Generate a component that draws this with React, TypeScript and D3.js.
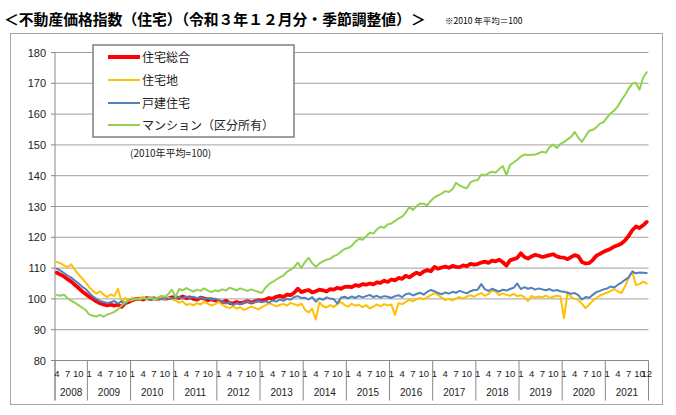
import React from 'react';
import * as d3 from 'd3';

const startYear = 2008;
const startMonth = 4;
const endYear = 2021;
const yearLabels = [2008, 2009, 2010, 2011, 2012, 2013, 2014, 2015, 2016, 2017, 2018, 2019, 2020, 2021];
const monthTickLabels = [1, 4, 7, 10];
const yTicks = [80, 90, 100, 110, 120, 130, 140, 150, 160, 170, 180];

const seriesNames = ['住宅総合', '住宅地', '戸建住宅', 'マンション（区分所有）'];
const seriesColors = ['#FF0000', '#FFC000', '#4F81BD', '#92D050'];

// 住宅総合
const sogo = [
  108.5, 107.9, 107.3, 106.4, 105.6, 104.6, 103.6, 102.5, 101.6,
  100.7, 100.0, 99.2, 98.6, 98.2, 97.9, 98.1, 97.8, 98.2, 97.4, 98.6, 99.0,
  99.6, 99.9, 100.1, 99.8, 100.3, 100.0, 100.2, 99.9, 100.3, 100.1, 100.2, 100.5,
  100.6, 100.3, 100.8, 100.2, 100.5, 100.0, 99.8, 100.4, 100.1, 99.6, 99.9, 99.5,
  99.3, 98.9, 99.4, 98.7, 98.5, 99.0, 98.6, 98.9, 99.3, 98.8, 99.2, 99.5,
  99.4, 99.8, 100.3, 100.0, 100.7, 101.0, 100.6, 101.4, 101.2, 102.0, 103.3, 102.2,
  102.6, 102.9, 102.1, 102.5, 103.0, 102.8, 102.4, 103.2, 103.0, 103.6, 103.3, 103.9,
  104.0, 103.8, 104.5, 104.2, 104.8, 104.6, 105.0, 104.7, 105.4, 105.2, 105.9, 105.5,
  106.3, 106.0, 106.8, 106.5, 107.5, 107.0, 107.8, 108.5, 108.0, 108.9, 109.4, 109.0,
  110.4, 109.8, 110.2, 110.5, 110.1, 110.7, 110.4, 110.3, 110.9, 110.6, 111.4, 111.1,
  111.3, 111.8, 112.1, 111.7, 112.4, 112.2, 112.7, 111.9, 110.8, 112.5, 112.9, 113.3,
  114.8, 113.6, 113.1, 113.8, 114.3, 114.0, 113.6, 113.9, 114.2, 114.5, 113.8, 113.5,
  113.4, 112.9, 113.6, 114.2, 113.8, 112.0, 111.5, 111.6, 112.6, 114.0, 114.6, 115.3,
  115.8, 116.3, 117.0, 117.4, 118.0, 119.0, 120.5, 122.3, 123.5, 123.0, 123.9, 125.0,
];

// 住宅地
const takuchi = [
  112.0, 111.6, 110.9, 110.3, 111.2, 109.4, 108.0, 106.7, 105.4,
  103.8, 102.6, 101.7, 102.5, 101.4, 100.6, 101.5, 100.9, 103.3, 99.0, 100.3, 99.6,
  100.4, 99.8, 100.2, 100.6, 99.9, 100.3, 100.1, 99.7, 100.4, 100.0, 100.5, 99.9,
  99.5, 98.8, 99.2, 98.0, 98.4, 97.9, 98.6, 98.2, 99.0, 98.5, 97.8, 98.3,
  99.0, 98.1, 97.4, 97.0, 97.6, 96.8, 97.3, 96.4, 96.9, 97.5, 97.1, 96.6,
  97.3, 97.9, 98.6, 98.2, 97.6, 98.0, 98.4, 97.8, 98.7, 98.3, 97.8, 98.5,
  96.5, 95.6, 96.8, 93.3, 98.9, 97.6, 97.2, 98.0, 97.4, 98.3, 99.0, 98.0,
  97.5, 98.4, 97.8, 98.1, 97.3, 98.0, 96.9, 97.5, 98.2, 97.6, 98.3, 97.9,
  98.2, 94.8, 98.6, 98.3, 99.0, 99.7, 99.2, 99.9, 100.3, 99.8, 100.6, 101.2,
  101.9, 101.3, 100.4, 99.6, 100.0, 99.5, 100.2, 100.6, 100.1, 100.8, 101.2, 100.7,
  101.4, 101.9, 101.0, 101.6, 102.7, 102.4, 101.2, 101.8, 101.3, 101.0, 101.6, 100.9,
  101.2, 100.6, 99.3, 101.0, 100.4, 100.8, 100.5, 101.1, 100.3, 100.7, 101.0, 100.9,
  93.8, 102.2, 100.6, 100.0, 99.7, 98.4, 97.0, 98.2, 99.4, 100.3, 101.1, 101.6,
  102.0, 102.6, 103.2, 102.4, 101.9, 104.2, 106.8, 108.9, 104.5, 104.8, 105.6, 105.0,
];

// 戸建住宅
const kodate = [
  109.8, 109.2, 108.4, 107.6, 106.9, 106.0, 105.1, 104.0, 103.2,
  102.0, 100.8, 100.0, 99.3, 99.0, 98.7, 98.9, 99.3, 98.5, 99.2, 98.4, 99.6,
  99.7, 100.1, 99.8, 100.2, 100.0, 99.6, 100.3, 100.1, 99.9, 100.4, 100.0, 100.2,
  100.3, 100.6, 100.1, 100.8, 100.4, 100.7, 100.2, 100.5, 99.9, 100.3, 99.8, 100.1,
  99.6, 99.2, 98.5, 98.9, 98.0, 98.6, 98.2, 98.8, 99.3, 98.7, 99.0, 99.4,
  98.9, 99.2, 98.8, 99.5, 99.1, 99.8, 99.4, 100.0, 99.7, 100.6, 100.9, 100.3,
  100.4, 99.8, 100.6, 99.1, 100.2, 99.7, 100.5, 100.1, 99.9, 98.5, 100.4, 100.7,
  100.2, 100.8, 100.3, 101.0, 100.5, 100.9, 101.3, 100.6, 101.0, 100.4, 100.9, 100.7,
  100.3, 100.9, 101.2, 100.6, 101.5, 101.8, 101.1, 101.6, 102.0, 101.4, 102.3, 102.9,
  102.5, 101.9, 101.5, 102.1, 101.7, 102.3, 102.0, 102.6, 102.2, 101.8, 102.5, 102.9,
  103.0, 104.8, 103.2, 102.6, 103.3, 102.8, 102.4, 103.0, 102.7, 103.2, 103.6, 105.0,
  103.2, 103.8, 103.3, 103.6, 103.0, 103.4, 103.1, 102.8, 103.2, 102.6, 102.9, 102.5,
  102.3, 102.0, 101.7, 101.9, 101.2, 99.8, 100.6, 100.4, 101.3, 102.2, 102.6, 103.1,
  103.4, 104.0, 103.7, 104.6, 105.3, 106.2, 107.0, 108.9, 108.3, 108.6, 108.5, 108.4,
];

// マンション（区分所有）
const mansion = [
  101.3, 101.0, 101.4, 100.2, 99.4, 98.8, 98.0, 97.2, 96.4,
  95.0, 94.5, 94.3, 94.8, 94.2, 94.9, 95.3, 95.8, 96.6, 97.8, 98.9, 99.5,
  99.6, 100.1, 99.8, 100.3, 100.0, 100.6, 99.9, 100.4, 101.0, 100.7, 101.6, 103.0,
  100.6, 103.2, 102.8, 103.5, 102.9, 102.4, 103.0, 102.6, 103.4, 102.7, 102.2, 102.8,
  102.5, 103.1, 102.7, 103.6, 103.2, 102.8, 103.4, 103.0, 102.6, 103.1, 102.7, 102.3,
  101.9, 103.6, 104.8, 105.5, 106.3, 107.0, 107.6, 108.8, 109.5, 110.3, 111.8, 110.0,
  112.0, 113.3, 111.6, 110.4, 111.5, 112.2, 112.7, 113.0, 113.9, 114.4, 115.3, 116.2,
  116.5, 117.2, 118.6, 119.5, 119.2, 120.3, 121.5, 121.2, 122.6, 123.4, 123.1, 124.2,
  124.5, 125.3, 126.1, 126.7, 128.0, 129.9, 128.9, 130.1, 131.0, 130.9, 130.4, 131.9,
  133.0, 133.6, 134.2, 135.0, 134.7, 135.6, 137.7, 136.8, 136.3, 135.9, 137.8, 138.4,
  138.6, 140.4, 140.1, 140.8, 141.3, 141.0, 142.2, 143.1, 140.2, 143.5, 144.3, 145.2,
  146.2, 146.9, 146.7, 146.8, 146.9, 147.3, 147.8, 147.5, 149.3, 150.1, 149.0, 150.3,
  150.9, 151.8, 152.6, 154.2, 152.3, 151.0, 152.8, 154.6, 154.9, 155.7, 156.9, 157.4,
  158.9, 160.3, 161.2, 162.6, 164.6, 166.2, 168.3, 169.9, 170.2, 167.9, 171.8, 173.6,
];

const seriesValues = [sogo, takuchi, kodate, mansion];

type M = { y: number; m: number; key: string };
const monthsList: M[] = [];
for (let y = startYear; y <= endYear; y++) {
  for (let m = y === startYear ? startMonth : 1; m <= 12; m++) {
    monthsList.push({ y, m, key: `${y}-${m}` });
  }
}

const W = 676;
const H = 415;
const L = 55;
const R = 648.5;
const T = 52.5;
const B = 360.5;

const JP = '"Noto Sans CJK JP", "Noto Sans", sans-serif';
const NUM = '"Liberation Sans", Arial, sans-serif';

export default function App() {
  const x = d3.scaleBand<string>().domain(monthsList.map((d) => d.key)).range([L, R]).padding(0);
  const bw = x.bandwidth();
  const y = d3.scaleLinear().domain([80, 180]).range([B, T]);
  const cx = (k: string) => (x(k) as number) + bw / 2;

  const line = d3
    .line<number>()
    .x((_, i) => cx(monthsList[i].key))
    .y((v) => y(v));

  const yearStarts = yearLabels.map((yr) => {
    const first = monthsList.find((d) => d.y === yr)!;
    const last = [...monthsList].reverse().find((d) => d.y === yr)!;
    return { yr, x0: x(first.key) as number, x1: (x(last.key) as number) + bw };
  });

  const monthLabels = monthsList
    .map((d, i) => ({ ...d, i }))
    .filter((d, i) => monthTickLabels.includes(d.m) || i === monthsList.length - 1);

  const legendY = [57, 80, 103, 125];

  return (
    <svg width={W} height={H} style={{ position: 'absolute', left: 0, top: 0, background: '#fff' }}>
      <text x={4} y={25} fontFamily={JP} fontWeight={700} fontSize={14.8} fill="#000">
        ＜不動産価格指数（住宅）（令和３年１２月分・季節調整値）＞
      </text>
      <text x={445} y={24} fontFamily={JP} fontSize={8.5} fill="#000">
        ※2010 年平均＝100
      </text>

      <rect x={10.5} y={33.5} width={652} height={371} fill="#fff" stroke="#a6a6a6" strokeWidth={1} />

      {yTicks.map((t) => (
        <g key={t}>
          {t !== 80 && <line x1={L} x2={R} y1={y(t)} y2={y(t)} stroke="#a0a0a0" strokeWidth={1} />}
          <line x1={L - 4} x2={L} y1={y(t)} y2={y(t)} stroke="#888" strokeWidth={1} />
          <text x={46} y={y(t) + 4} textAnchor="end" fontFamily={NUM} fontSize={11} fill="#222">
            {t}
          </text>
        </g>
      ))}

      <line x1={L} x2={L} y1={T} y2={B + 40} stroke="#888" strokeWidth={1} />
      <line x1={L} x2={R} y1={B} y2={B} stroke="#888" strokeWidth={1} />
      {yearStarts.map((d) => (
        <line key={'s' + d.yr} x1={d.x0} x2={d.x0} y1={B} y2={B + 40} stroke="#888" strokeWidth={1} />
      ))}
      <line x1={R} x2={R} y1={B} y2={B + 40} stroke="#888" strokeWidth={1} />

      {monthLabels.map((d) => (
        <text
          key={'m' + d.key}
          x={cx(d.key)}
          y={B + 16}
          textAnchor="middle"
          fontFamily={NUM}
          fontSize={9.5}
          fill="#222"
        >
          {d.m}
        </text>
      ))}
      {yearStarts.map((d) => (
        <text
          key={'y' + d.yr}
          x={(d.x0 + d.x1) / 2}
          y={B + 35}
          textAnchor="middle"
          fontFamily={NUM}
          fontSize={10}
          fill="#222"
        >
          {d.yr}
        </text>
      ))}

      {seriesValues.map((vals, si) => (
        <path
          key={'p' + si}
          d={line(vals) as string}
          fill="none"
          stroke={seriesColors[si]}
          strokeWidth={si === 0 ? 3.8 : 2}
          strokeLinejoin="round"
          strokeLinecap="round"
        />
      ))}

      <rect x={93} y={45} width={201} height={92} fill="#fff" stroke="#7f7f7f" strokeWidth={1.5} />
      {seriesNames.map((n, i) => (
        <g key={'l' + i}>
          <line
            x1={108}
            x2={140}
            y1={legendY[i]}
            y2={legendY[i]}
            stroke={seriesColors[i]}
            strokeWidth={i === 0 ? 4 : 2}
          />
          <text x={142} y={legendY[i] + 4.5} fontFamily={JP} fontSize={12} fill="#222">
            {n}
          </text>
        </g>
      ))}

      <text x={130} y={157} fontFamily={JP} fontSize={10} fill="#222">
        (2010年平均=100)
      </text>
    </svg>
  );
}
